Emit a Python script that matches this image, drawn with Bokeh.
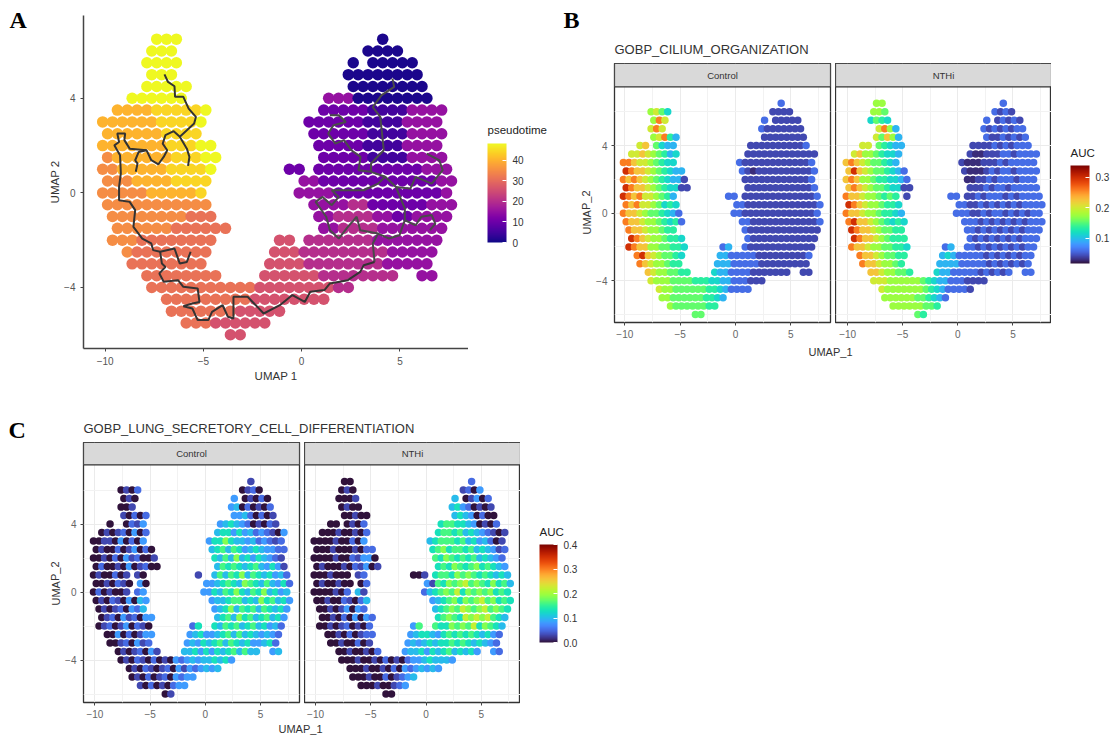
from bokeh.plotting import figure
from bokeh.layouts import row, column
from bokeh.models import (ColorBar, ColumnDataSource, FixedTicker, Label, LinearColorMapper, PrintfTickFormatter)
from bokeh.palettes import Plasma256, Turbo256
from bokeh.embed import file_html
from bokeh.resources import INLINE

# Values on a 0.5-unit UMAP grid: {y: [(first x, one char per cell)]}
A_LEVELS = {"0": 1, "1": 5, "2": 10, "3": 15, "4": 20, "5": 26, "6": 31, "7": 35, "8": 40, "9": 44, "a": 48}
B_LEVELS = {"0": .03, "1": .043, "2": .06, "3": .095, "4": .115, "5": .135, "6": .155, "7": .175,
            "8": .2, "9": .225, "a": .26, "b": .3}
C_LEVELS = {"0": 0.0, "1": .03, "2": .05, "3": .08, "4": .1, "5": .13, "6": .16, "7": .185, "8": .22, "9": .3}

A_ROWS = {
    6.5: [(-7.5, "aaa"), (4, "0")],
    6: [(-7.5, "aaa"), (3.5, "0000")],
    5.5: [(-8, "aaaa"), (2.5, "0"), (3.5, "00000")],
    5: [(-7.5, "aaa"), (2.5, "00000000")],
    4.5: [(-8, "aaaaa"), (2.5, "00000000")],
    4: [(-8.5, "aaaaaa"), (1.5, "33300000000")],
    3.5: [(-9.5, "888899999a"), (1, "2222211113333")],
    3: [(-10, "8888889999a"), (0.5, "22222211113333")],
    2.5: [(-10, "8888889999"), (0.5, "22222211113333")],
    2: [(-10, "8888888999"), (-5, "aa"), (1, "2222211113333")],
    1.5: [(-10, "7888888999"), (-5, "aa"), (1, "2222211113333")],
    1: [(-10, "77888889999"), (-4.5, "a"), (-0.5, "22"), (1, "22222222222333")],
    0.5: [(-10, "77788889999"), (0, "3322222222222233")],
    0: [(-10, "77777888889"), (0, "3333222222222223")],
    -0.5: [(-10, "77777777777"), (0.5, "333344222222333")],
    -1: [(-9.5, "77777777666"), (1, "33444433223333")],
    -1.5: [(-9.5, "77777766666"), (-4, "6"), (1, "3344443333333")],
    -2: [(-9.5, "77766666666"), (-1, "55"), (0.5, "4"), (1, "4444443333333")],
    -2.5: [(-9, "766666666"), (-1.5, "55544444444433333")],
    -3: [(-8.5, "66666666"), (-1.5, "55554444444433333")],
    -3.5: [(-8, "66666666"), (-2, "55555544444444"), (6, "33")],
    -4: [(-7.5, "666666666665555555544")],
    -4.5: [(-7, "66666666655555555")],
    -5: [(-6.5, "666666655555")],
    -5.5: [(-6, "666555555")],
    -6: [(-3.5, "55")],
}
B_CONTROL_ROWS = {
    6.5: [(4, "2")],
    6: [(-7.5, "7864"), (3.5, "1111")],
    5.5: [(-7.5, "7a8"), (2.5, "2"), (3.5, "11111")],
    5: [(-7.5, "8a8"), (2.5, "21111111")],
    4.5: [(-7.5, "78a53"), (2.5, "11111111")],
    4: [(-8.5, "89"), (-7, "64"), (-6, "33"), (1.5, "11111111112")],
    3.5: [(-9.5, "889876534"), (1, "1111111111111")],
    3: [(-10, "aa98876544"), (0.5, "21111111111112")],
    2.5: [(-10, "ba99876543"), (-5, "3"), (0.5, "21011111111112")],
    2: [(-10, "a9a9876543"), (-5, "31"), (1, "1111111111112")],
    1.5: [(-10, "ba9987654"), (-5.5, "4"), (-5, "11"), (1, "1111111111112")],
    1: [(-10, "ba9a8876"), (-6, "53"), (-0.5, "22"), (1, "11111111111112")],
    0.5: [(-10, "a9a88764"), (-6, "54"), (0, "2211111111111112")],
    0: [(-10, "a9987665"), (-6, "43"), (-5, "2"), (0, "2211111111111112")],
    -0.5: [(-10, "a9987765"), (-6, "45"), (-5, "2"), (0.5, "221111111111112")],
    -1: [(-9.5, "a998776"), (-6, "55"), (1, "21111111111111")],
    -1.5: [(-9.5, "ba987765"), (-5.5, "54"), (1, "2111111111111")],
    -2: [(-9.5, "ba99776655"), (-4.5, "4"), (-1, "23"), (1, "2111111111111")],
    -2.5: [(-9, "ab987665"), (-5, "4"), (-1.5, "33222221111111112")],
    -3: [(-8.5, "a9877655"), (-1.5, "33322222111111111")],
    -3.5: [(-8, "98776655"), (-2, "43322221111111"), (6, "11")],
    -4: [(-7.5, "877766665554433222111")],
    -4.5: [(-7, "87766666655432222")],
    -5: [(-6.5, "776666665543")],
    -5.5: [(-6, "766666655")],
    -6: [(-3.5, "66")],
}
B_NTHI_ROWS = {
    6.5: [(-7.5, "77"), (4, "2")],
    6: [(-7.5, "776"), (3.5, "2121")],
    5.5: [(-8, "4654"), (2.5, "2"), (3.5, "12121")],
    5: [(-7, "8a73"), (2.5, "21212122")],
    4.5: [(-7.5, "86973"), (2.5, "21121212")],
    4: [(-8.5, "88"), (-7, "65"), (-6, "433"), (1.5, "11112121222")],
    3.5: [(-9.5, "897765443"), (1, "1001112212222")],
    3: [(-10, "9a98766543"), (0.5, "10001112122222")],
    2.5: [(-10, "9b98766543"), (-5, "2"), (0.5, "10001212212222")],
    2: [(-10, "9a97765544"), (-5, "32"), (1, "0011212221222")],
    1.5: [(-10, "9a9876654"), (-5.5, "4"), (-5, "11"), (1, "1112122122222")],
    1: [(-10, "a9987765"), (-6, "65"), (-4.5, "1"), (-0.5, "22"), (1, "11212221212222")],
    0.5: [(-10, "ba987765"), (-6, "54"), (0, "2211212121212222")],
    0: [(-10, "a9987765"), (-6, "54"), (-5, "3"), (0, "2221121221212122")],
    -0.5: [(-10, "ab998765"), (-6, "45"), (-5, "4"), (0.5, "222121212121222")],
    -1: [(-9.5, "ba99876"), (-6, "655"), (1, "22121212121222")],
    -1.5: [(-9.5, "ba998765"), (-5.5, "55"), (1, "2121212121222")],
    -2: [(-9.5, "a99877665"), (-5, "54"), (-1, "23"), (1, "2212121212122")],
    -2.5: [(-9, "a9987665"), (-5, "5"), (-1.5, "34322222121212122")],
    -3: [(-8.5, "a9987765"), (-1.5, "33332222212121212")],
    -3.5: [(-8, "99877665"), (-2, "43322222121212"), (6, "22")],
    -4: [(-7.5, "888777777654332221111")],
    -4.5: [(-7, "87777777654322221")],
    -5: [(-6.5, "777777665432")],
    -5.5: [(-6, "777777665")],
    -6: [(-3.5, "65")],
}
C_CONTROL_ROWS = {
    6.5: [(4, "1")],
    6: [(-7.5, "0102"), (3.5, "0120")],
    5.5: [(-7.5, "010"), (2.5, "3"), (3.5, "01020")],
    5: [(-7.5, "001"), (2.5, "34020102")],
    4.5: [(-7.5, "1020"), (-5.5, "2"), (2.5, "33420201")],
    4: [(-8.5, "0"), (-7, "02"), (-6, "13"), (1.5, "34543201021")],
    3.5: [(-9.5, "010120302"), (1, "4553534232103")],
    3: [(-10, "0011030203"), (0.5, "35575443423212")],
    2.5: [(-10, "0100201302"), (-5, "0"), (0.5, "45646534543322")],
    2: [(-10, "0010203120"), (-5, "01"), (1, "5464745354321")],
    1.5: [(-10, "0200103012"), (-5, "00"), (1, "4656545643531")],
    1: [(-10, "0100201"), (-6, "10"), (-0.5, "1"), (1, "46465746545342")],
    0.5: [(-10, "0010210"), (-6, "30"), (0, "33"), (1, "45654765464352")],
    0: [(-10, "0201001"), (-6, "23"), (0, "33"), (1, "54657546574534")],
    -0.5: [(-10, "01021030"), (-6, "43"), (0.5, "344566454756453")],
    -1: [(-9.5, "0101203"), (-6, "24"), (1, "34574656465453")],
    -1.5: [(-9.5, "01203120"), (-5.5, "33"), (1, "4564756456453")],
    -2: [(-9.5, "0120130210"), (-1, "25"), (1, "5465645645342")],
    -2.5: [(-9, "00302013"), (-5, "3"), (-1.5, "34533456464543432")],
    -3: [(-8.5, "00120312"), (-1.5, "34354564654533452")],
    -3.5: [(-8, "01012031"), (-2, "44535354564644"), (6, "34")],
    -4: [(-7.5, "010210201032343445453")],
    -4.5: [(-7, "01021012031323434")],
    -5: [(-6.5, "010201203233")],
    -5.5: [(-6, "102010233")],
    -6: [(-3.5, "01")],
}
C_NTHI_ROWS = {
    6.5: [(-7.5, "00"), (4, "2")],
    6: [(-7.5, "010"), (3.5, "1203")],
    5.5: [(-8, "0001"), (2.5, "4"), (3.5, "01302")],
    5: [(-7.5, "0100"), (2.5, "45320101")],
    4.5: [(-7.5, "00100"), (2.5, "45430200")],
    4: [(-8.5, "00"), (-7, "01"), (-6, "02"), (1.5, "56655430102")],
    3.5: [(-9.5, "000100102"), (1, "5665645432101")],
    3: [(-10, "0000100203"), (0.5, "45666564534201")],
    2.5: [(-10, "0001000102"), (-5, "2"), (0.5, "56756656454312")],
    2: [(-10, "0000100213"), (-5, "30"), (1, "6576565645432")],
    1.5: [(-10, "0100010213"), (-5, "01"), (1, "5657656756543")],
    1: [(-10, "0001000"), (-6, "12"), (-1, "001"), (1, "56657676565454")],
    0.5: [(-10, "0100100"), (-6, "02"), (0, "31"), (1, "65767867657564")],
    0: [(-10, "0000102"), (-6, "41"), (0, "24"), (1, "56768576767565")],
    -0.5: [(-10, "00100210"), (-6, "24"), (0.5, "345675767867565")],
    -1: [(-9.5, "0010130"), (-6, "32"), (1, "45676876786765")],
    -1.5: [(-9.5, "00102030"), (-5.5, "32"), (1, "5676587878654")],
    -2: [(-9.5, "0010120102"), (-1, "36"), (1, "6557676857654")],
    -2.5: [(-9, "00102012"), (-5, "2"), (-1.5, "34554356565654532")],
    -3: [(-8.5, "00100201"), (-1.5, "34345455656545432")],
    -3.5: [(-8, "00100102"), (-2, "34453545645453"), (6, "32")],
    -4: [(-7.5, "000100102010233454443")],
    -4.5: [(-7, "00010010203234343")],
    -5: [(-6.5, "000100201234")],
    -5.5: [(-6, "000100123")],
    -6: [(-3.5, "00")],
}

# Trajectory of panel A, in UMAP coordinates
TRAJECTORY_LEFT = [
    ([-6.98, -6.80, -6.47, -6.44, -6.02, -5.75, -5.38, -5.47, -5.84, -6.2, -5.84, -5.71, -5.78],
     [5.01, 4.69, 4.51, 4.06, 4.06, 3.56, 3.21, 2.93, 2.65, 2.37, 1.87, 1.52, 1.14]),
    ([-6.2, -6.51, -6.93, -7.07, -6.84, -7.02, -7.29, -7.65, -7.89, -8.29, -8.47, -8.35, -8.44],
     [2.37, 2.61, 2.44, 2.08, 1.80, 1.52, 1.21, 1.38, 1.80, 1.73, 1.38, 1.24, 0.89]),
    ([-7.89, -8.75, -9.02, -8.98, -9.38, -9.29, -9.53, -9.24, -9.2, -9.29, -9.29, -8.75, -8.47, -8.56, -8.11,
      -7.65, -7.56, -7.2, -6.47, -6.2, -5.84, -5.65],
     [1.80, 1.87, 2.23, 2.51, 2.51, 2.15, 2.01, 1.59, 0.82, 0.25, -0.31, -0.38, -0.73, -1.44, -1.93,
      -2.14, -2.42, -2.49, -2.35, -2.99, -2.92, -2.49]),
    ([-7.2, -7.11, -6.93, -7.24, -7.02, -6.29, -6.02, -5.29, -5.2, -5.56, -6.02, -5.56, -5.29, -4.75, -4.56,
      -4.02, -3.75, -3.47, -3.47, -2.75, -1.93, -1.11, -0.47, 0.16, 0.44, 1.16, 1.44, 2.35, 2.98, 3.16, 3.71],
     [-2.49, -2.99, -3.13, -3.41, -3.76, -3.69, -3.97, -4.04, -4.61, -4.68, -4.79, -4.89, -5.38, -5.38, -5.03,
      -4.75, -5.24, -5.31, -4.39, -4.39, -5.1, -4.75, -4.32, -4.61, -4.18, -4.11, -3.83, -3.69, -3.34, -3.06, -2.92]),
]
TRAJECTORY_RIGHT = [
    ([3.71, 3.62, 3.89, 4.44, 4.98, 5.25, 5.25, 5.07, 4.8, 4.25, 3.89, 3.16, 2.07, 1.53, 1.89, 1.53, 1.07, 0.71,
      1.25, 1.44, 1.89, 2.35, 2.8, 2.98, 3.89],
     [-2.92, -2.14, -1.72, -1.93, -1.79, -1.15, -0.66, -0.31, 0.25, 0.68, 0.39, 0.11, 0.11, 0.11, -0.17, -0.52,
      -0.17, -0.38, -1.01, -1.58, -1.93, -1.44, -1.01, -1.58, -1.72]),
    ([4.25, 3.53, 2.89, 3.0, 2.53, 2.16, 1.71, 1.35, 1.62, 2.25, 1.89, 1.44],
     [0.68, 0.89, 0.96, 1.52, 1.80, 2.23, 2.08, 2.51, 2.86, 3.0, 3.28, 3.28]),
    ([3.53, 3.53, 4.18, 4.09, 4.0, 3.62, 4.07, 4.71, 4.62],
     [0.89, 1.24, 1.8, 2.51, 3.21, 3.63, 4.13, 4.48, 4.83]),
    ([4.8, 5.53, 5.8, 6.62, 7.18, 7.0, 6.36],
     [0.25, 0.18, 0.68, 0.39, 0.96, 1.38, 1.66]),
    ([5.25, 5.8, 6.09, 6.62, 6.8, 6.53],
     [-1.15, -1.37, -1.01, -0.94, -1.3, -1.58]),
]

A_TICKS = [0, 10, 20, 30, 40]
B_TICKS = [0.1, 0.2, 0.3]
C_TICKS = [0.0, 0.1, 0.2, 0.3, 0.4]
X_TICKS = [-10, -5, 0, 5]
X_MINOR = [-7.5, -2.5, 2.5, 7.5]
Y_TICKS = [-4, 0, 4]
Y_MINOR = [-6, -2, 2, 6]

SANS = "Liberation Sans"
SERIF = "Liberation Serif"


def cells(rows, levels):
    xs, ys, vals = [], [], []
    for y, runs in rows.items():
        # the read-off samples sit on a staggered lattice
        shift = 0.125 if int(y * 2) % 2 else -0.125
        for start, chars in runs:
            for j, c in enumerate(chars):
                xs.append(start + 0.5 * j + shift)
                ys.append(y)
                vals.append(levels[c])
    return ColumnDataSource(dict(x=xs, y=ys, v=vals))


def colorbar(mapper, ticks, loc, w, h, fmt=None):
    cb = ColorBar(color_mapper=mapper, ticker=FixedTicker(ticks=ticks), location=loc, width=w, height=h,
                  padding=0, margin=0,
                  major_label_text_font=SANS, major_label_text_font_size="10px",
                  major_label_text_color="#333333", major_tick_line_color="white", major_tick_in=4,
                  major_tick_out=0, minor_tick_line_color=None, bar_line_color=None,
                  background_fill_color=None, border_line_color=None, label_standoff=6)
    if fmt:
        cb.formatter = PrintfTickFormatter(format=fmt)
    return cb


def text_panel(x0, x1, y0, y1, items):
    # a bare figure whose frame is addressed in page pixels, holding only texts (and a legend bar)
    w, h = int(x1 - x0), int(y1 - y0)
    p = figure(width=w, height=h, x_range=(x0, x1), y_range=(y1, y0), toolbar_location=None,
               output_backend="svg", min_border=0, outline_line_color=None, frame_align=False)
    p.axis.visible = False
    p.grid.visible = False
    for item in items:
        text, x, y, font, size, style, color, align = item[:8]
        angle = item[8] if len(item) > 8 else 0.0
        p.add_layout(Label(x=x, y=y, text=text, text_font=font, text_font_size=size, text_font_style=style,
                           text_color=color, text_align=align, text_baseline="middle", angle=angle))
    return p


def facet(rows, levels, mapper, strip, x_range, y_range, frame_h, left, right, bottom, dot):
    p = figure(frame_width=216, frame_height=frame_h, x_range=x_range, y_range=y_range, toolbar_location=None,
               output_backend="svg", min_border_left=left, min_border_right=right, min_border_top=0,
               min_border_bottom=bottom, outline_line_color="#333333", outline_line_width=1.3)
    p.xaxis.ticker = FixedTicker(ticks=X_TICKS, minor_ticks=X_MINOR)
    p.yaxis.ticker = FixedTicker(ticks=Y_TICKS, minor_ticks=Y_MINOR)
    p.grid.grid_line_color = "#ebebeb"
    p.grid.minor_grid_line_color = "#f2f2f2"
    p.axis.axis_line_color = None
    p.axis.major_tick_line_color = "#444444"
    p.axis.major_tick_out = 3
    p.axis.major_tick_in = 0
    p.axis.minor_tick_line_color = None
    p.axis.major_label_text_font = SANS
    p.axis.major_label_text_font_size = "10px"
    p.axis.major_label_text_color = "#666666"
    p.axis.major_label_standoff = 3
    if left == 0:
        p.yaxis.visible = False
    p.scatter("x", "y", source=cells(rows, levels), size=dot, line_color=None,
              fill_color={"field": "v", "transform": mapper})
    p.quad(left=x_range[0], right=x_range[1], bottom=7.48, top=y_range[1], fill_color="#d9d9d9",
           line_color="#333333", line_width=1.2)
    p.add_layout(Label(x=(x_range[0] + x_range[1]) / 2, y=(7.48 + y_range[1]) / 2, text=strip, text_font=SANS,
                       text_font_size="9.5px", text_color="#333333", text_align="center", text_baseline="middle"))
    return p


# Panel A
plasma = LinearColorMapper(palette=Plasma256, low=0, high=48)
a_letter = text_panel(0, 30, 0, 400, [("A", 9, 19, SERIF, "24px", "bold", "black", "left")])
a = figure(frame_width=385, frame_height=333, x_range=(-11.1, 8.49), y_range=(-6.58, 7.5), toolbar_location=None,
           output_backend="svg", min_border_left=53, min_border_right=0, min_border_top=15, min_border_bottom=52,
           outline_line_color=None)
a.grid.visible = False
a.xaxis.ticker = FixedTicker(ticks=X_TICKS)
a.yaxis.ticker = FixedTicker(ticks=Y_TICKS)
a.axis.axis_line_color = "#444444"
a.axis.axis_line_width = 1.5
a.axis.major_tick_line_color = "#444444"
a.axis.major_tick_out = 3
a.axis.major_tick_in = 0
a.axis.minor_tick_line_color = None
a.axis.major_label_text_font = SANS
a.axis.major_label_text_font_size = "10px"
a.axis.major_label_text_color = "#555555"
a.xaxis.axis_label = "UMAP 1"
a.yaxis.axis_label = "UMAP 2"
a.axis.axis_label_text_font = SANS
a.axis.axis_label_text_font_size = "11.5px"
a.axis.axis_label_text_font_style = "normal"
a.axis.axis_label_text_color = "#333333"
a.xaxis.axis_label_standoff = 2
a.yaxis.axis_label_standoff = 0
a.scatter("x", "y", source=cells(A_ROWS, A_LEVELS), size=11.5, line_color=None,
          fill_color={"field": "v", "transform": plasma})
for xs, ys in TRAJECTORY_RIGHT:
    a.line(xs, ys, line_color="#4a4a4a", line_width=2)
for xs, ys in TRAJECTORY_LEFT:
    a.line(xs, ys, line_color="#333333", line_width=2)
a_legend = text_panel(468, 560, 0, 400, [("pseudotime", 487, 129, SANS, "11.5px", "normal", "#222222", "left")])
a_legend.add_layout(colorbar(plasma, A_TICKS, (19, 158), 19, 99))

# Panel B
turbo_b = LinearColorMapper(palette=Turbo256, low=0.018, high=0.339)
b_head = text_panel(560, 1110, 0, 63, [
    ("B", 563, 19, SERIF, "24px", "bold", "black", "left"),
    ("GOBP_CILIUM_ORGANIZATION", 614, 49, SANS, "13px", "normal", "#333333", "left"),
])
b_ylab = text_panel(560, 593, 63, 339, [("UMAP_2", 586, 212, SANS, "11px", "normal", "#333333", "center", 1.5708)])
b1 = facet(B_CONTROL_ROWS, B_LEVELS, turbo_b, "Control", (-10.93, 8.58), (-6.47, 8.86), 259, 18, 5, 17, 7.5)
b2 = facet(B_NTHI_ROWS, B_LEVELS, turbo_b, "NTHi", (-11.1, 8.5), (-6.47, 8.86), 259, 0, 0, 17, 7.5)
b_legend = text_panel(1051, 1110, 63, 339, [("AUC", 1070, 152, SANS, "11.5px", "normal", "#222222", "left")])
b_legend.add_layout(colorbar(turbo_b, B_TICKS, (19, 76), 19, 98))
b_foot = text_panel(560, 1110, 339, 360, [("UMAP_1", 830, 350, SANS, "11px", "normal", "#333333", "center")])

# Panel C
turbo_c = LinearColorMapper(palette=Turbo256, low=0.0, high=0.4)
c_head = text_panel(0, 600, 400, 442, [
    ("C", 8, 429, SERIF, "24px", "bold", "black", "left"),
    ("GOBP_LUNG_SECRETORY_CELL_DIFFERENTIATION", 83, 428, SANS, "13px", "normal", "#333333", "left"),
])
c_ylab = text_panel(0, 62, 442, 720, [("UMAP_2", 55, 583, SANS, "11px", "normal", "#333333", "center", 1.5708)])
c1 = facet(C_CONTROL_ROWS, C_LEVELS, turbo_c, "Control", (-11.03, 8.53), (-6.5, 8.8), 260, 17, 5, 18, 7.5)
c2 = facet(C_NTHI_ROWS, C_LEVELS, turbo_c, "NTHi", (-11.0, 8.55), (-6.5, 8.8), 260, 0, 0, 18, 7.5)
c_legend = text_panel(520, 600, 442, 720, [("AUC", 539, 531, SANS, "11.5px", "normal", "#222222", "left")])
c_legend.add_layout(colorbar(turbo_c, C_TICKS, (19, 78), 18, 98, fmt="%.1f"))
c_foot = text_panel(0, 600, 720, 736, [("UMAP_1", 300, 728, SANS, "11px", "normal", "#333333", "center")])

root = column(
    row(a_letter, a, a_legend,
        column(b_head, row(b_ylab, b1, b2, b_legend, spacing=0), b_foot, spacing=0), spacing=0),
    c_head,
    row(c_ylab, c1, c2, c_legend, spacing=0),
    c_foot,
    spacing=0,
)
open("out.html", "w").write(file_html(root, INLINE))
